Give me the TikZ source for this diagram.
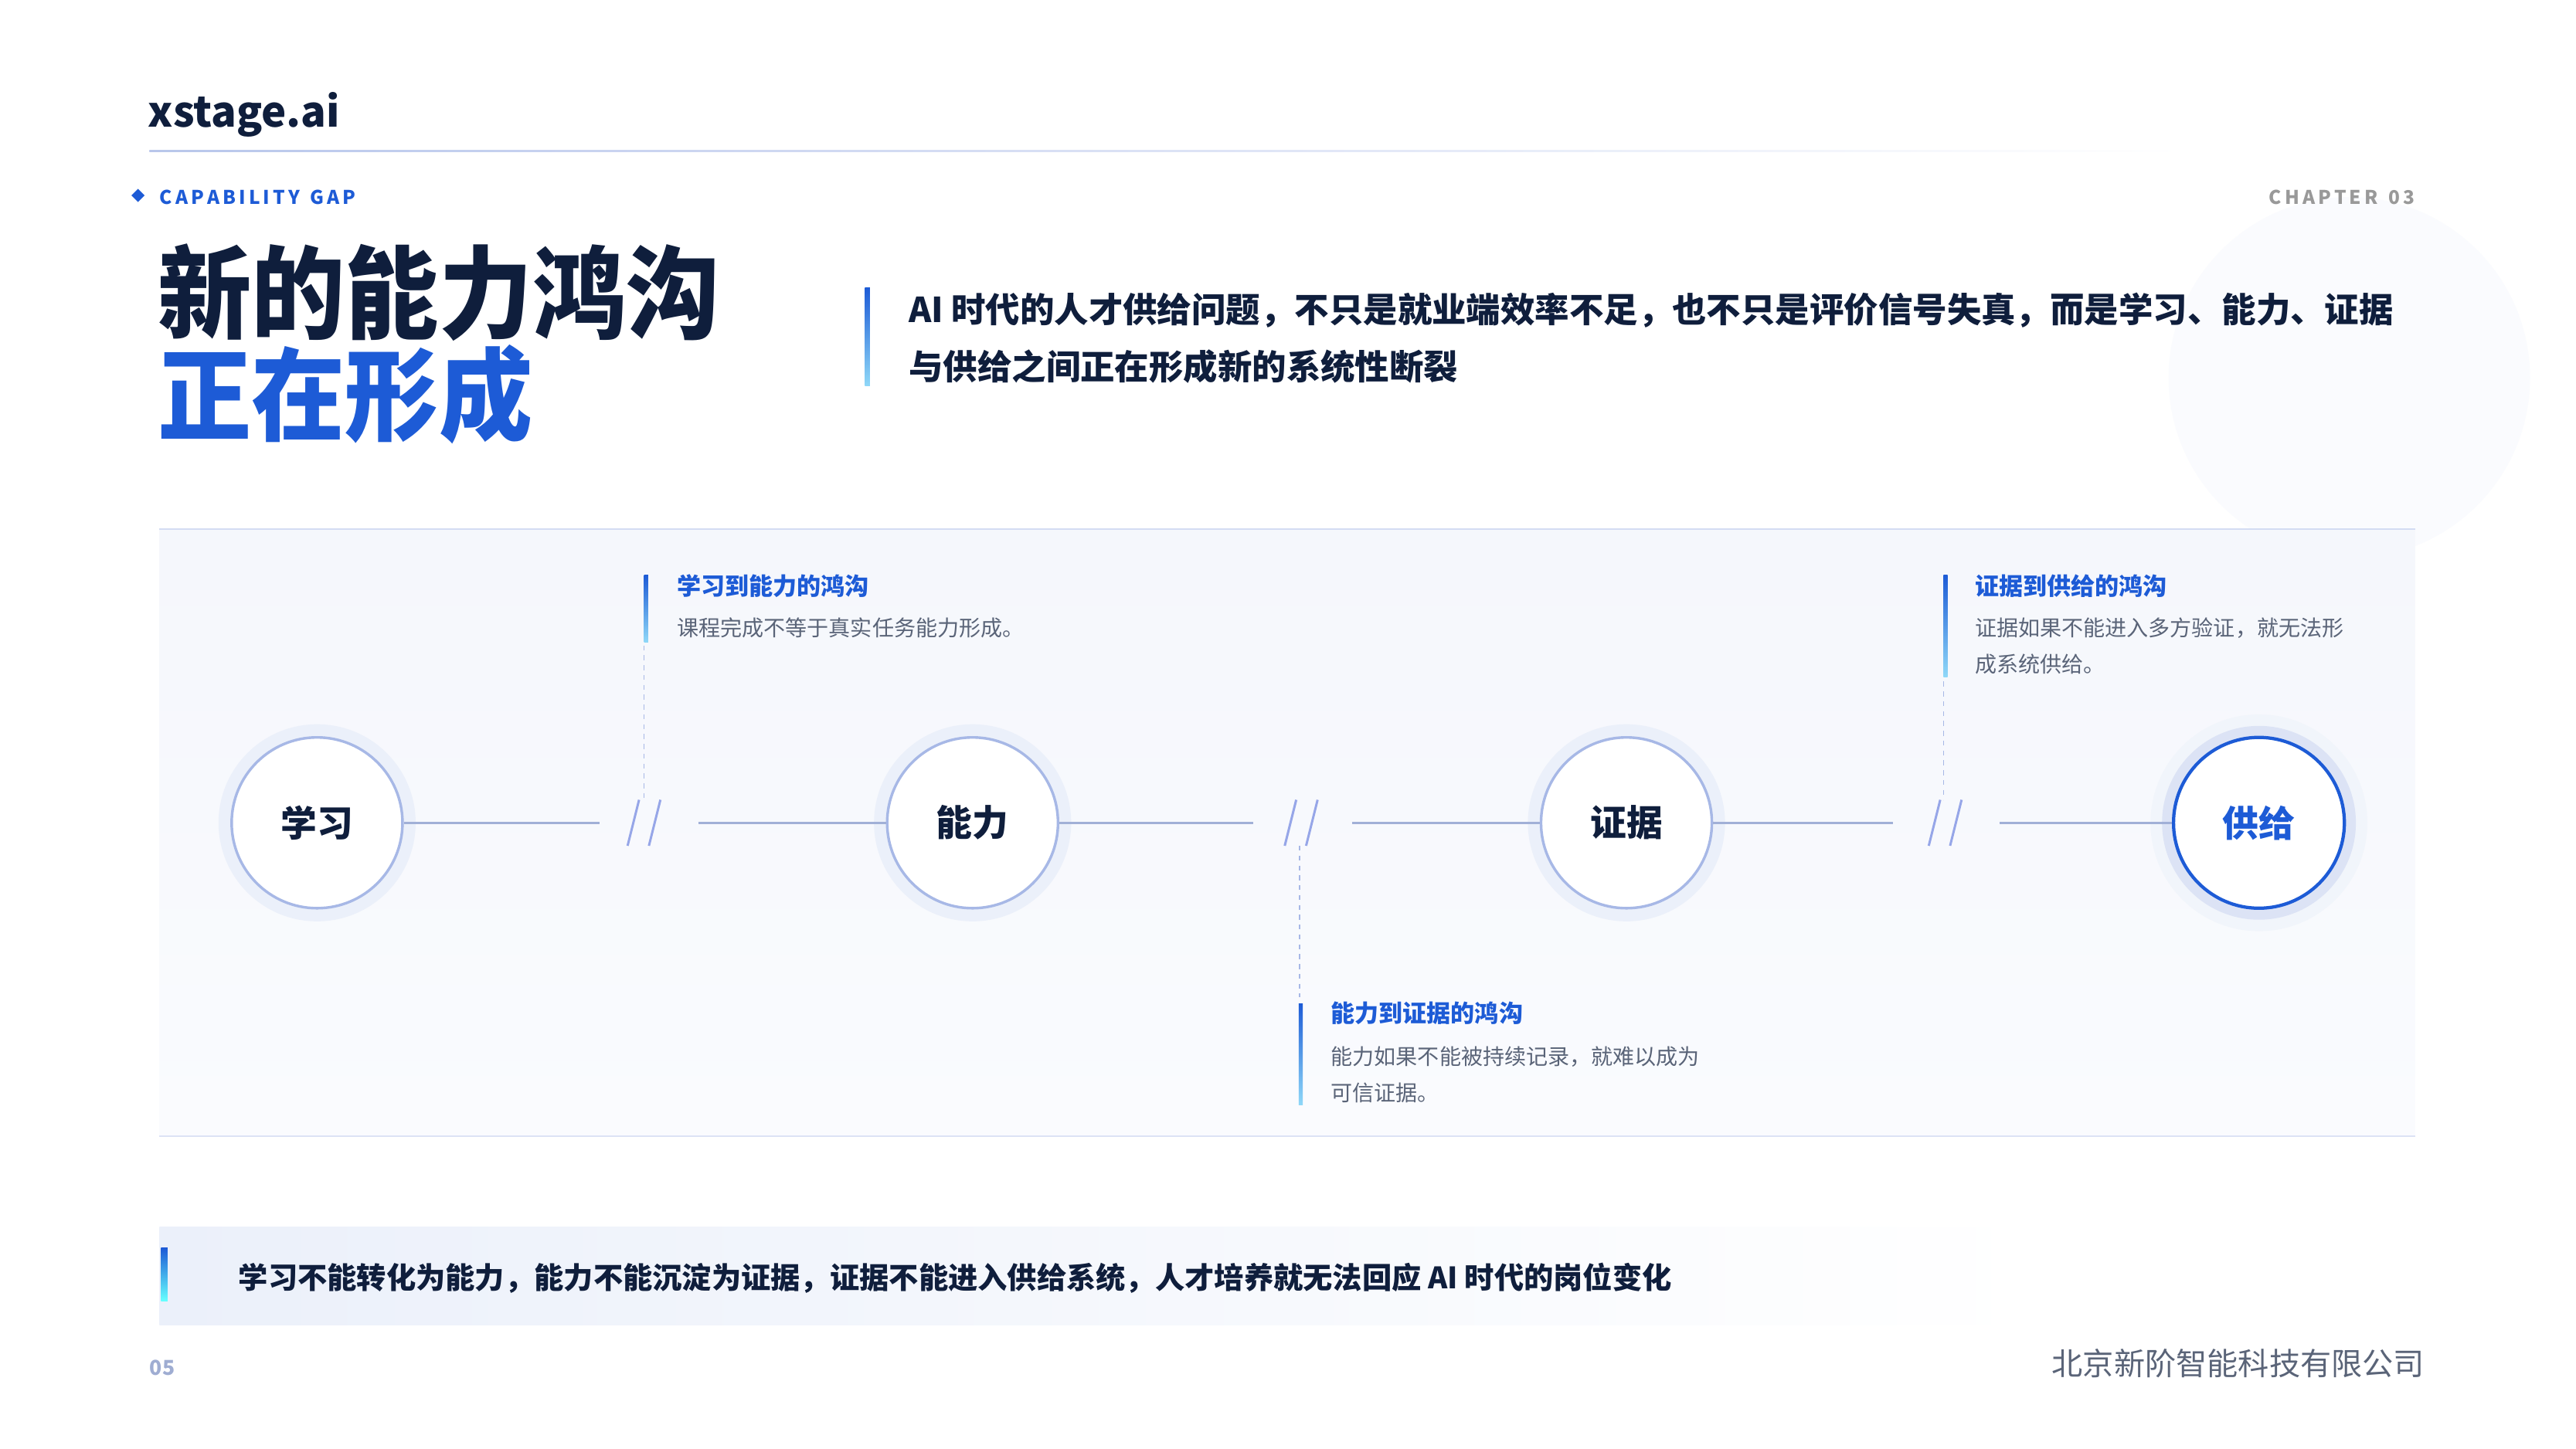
\documentclass[tikz,border=0pt]{standalone}
\usepackage{fontspec}
\setmainfont{Noto Sans CJK SC}
\usetikzlibrary{fadings,shadings}
\definecolor{navy}{HTML}{0F1E3C}
\definecolor{brand}{HTML}{1D5BD6}
\definecolor{ring}{HTML}{A7B8E6}
\definecolor{halo}{HTML}{EBF0FA}
\definecolor{gtext}{HTML}{5A6478}
\definecolor{panel}{HTML}{F5F7FC}
\definecolor{panelb}{HTML}{FAFBFE}
\definecolor{cyanb}{HTML}{8FD8F8}
\tikzset{
  stagecirc/.style={circle,draw=ring,line width=1.6pt,fill=white,minimum size=104pt,inner sep=0pt,font=\fontsize{22}{22}\selectfont\bfseries,text=navy},
  link/.style={draw=ring!85!gray,line width=1.6pt},
  brk/.style={draw=ring!90!blue,line width=1.4pt},
  dashv/.style={draw=ring,line width=0.8pt,dash pattern=on 3pt off 3pt},
  gtitle/.style={anchor=west,font=\fontsize{14.6}{14}\selectfont\bfseries,text=brand,inner sep=0pt},
  gdesc/.style={anchor=north west,font=\fontsize{13.2}{22}\selectfont,text=gtext,inner sep=0pt,align=left},
  gbar/.style={top color=brand,bottom color=cyanb,draw=none},
}
\begin{document}
\begin{tikzpicture}[x=1pt,y=-1pt]
\useasboundingbox (0,0) rectangle (1568,882);
\fill[white] (0,0) rectangle (1568,882);
\fill[halo!25] (1430,230) circle (110);
% header
\node[anchor=west,inner sep=0pt,font=\fontsize{25.5}{25}\selectfont\bfseries,text=navy] (logo) at (90,70) {xstage.ai};
\shade[left color=ring!80,right color=white] (91,91.5) rectangle (1330,92.5);
\fill[brand] (84,115) -- (88,119) -- (84,123) -- (80,119) -- cycle;
\node[anchor=west,inner sep=0pt,font=\fontsize{11.5}{12}\selectfont\bfseries,text=brand] (cap) at (97,120) {C\,A\,P\,A\,B\,I\,L\,I\,T\,Y\, \,G\,A\,P};
\node[anchor=east,inner sep=0pt,font=\fontsize{11.5}{12}\selectfont\bfseries,text=gray!80] (chap) at (1470,120) {C\,H\,A\,P\,T\,E\,R\, \,0\,3};
\node[anchor=west,inner sep=0pt,font=\fontsize{57}{57}\selectfont\bfseries,text=navy,yscale=1.08] (t1) at (96,178) {新的能力鸿沟};
\node[anchor=west,inner sep=0pt,font=\fontsize{57}{57}\selectfont\bfseries,text=brand,yscale=1.08] (t2) at (96,240) {正在形成};
\shade[top color=brand,bottom color=cyanb] (526.5,175) rectangle (529.5,235);
\node[anchor=west,inner sep=0pt,font=\fontsize{20.9}{20}\selectfont\bfseries,text=navy] (s1) at (553,189) {AI 时代的人才供给问题，不只是就业端效率不足，也不只是评价信号失真，而是学习、能力、证据};
\node[anchor=west,inner sep=0pt,font=\fontsize{20.9}{20}\selectfont\bfseries,text=navy] (s2) at (553,223) {与供给之间正在形成新的系统性断裂};
% panel
\shade[top color=panel,bottom color=panelb] (97,322) rectangle (1470,692);
\draw[ring!50,line width=1pt] (97,322) -- (1470,322);
\draw[ring!40,line width=1pt] (97,692) -- (1470,692);
% halos
\foreach \x in {193,592,990} \fill[halo] (\x,501) circle (60);
\fill[halo!70] (1375,501) circle (66);
\fill[ring!40] (1375,501) circle (59);
% circles
\node[stagecirc] (a) at (193,501) {学习};
\node[stagecirc] (b) at (592,501) {能力};
\node[stagecirc] (c) at (990,501) {证据};
\node[stagecirc,draw=brand,line width=2pt,text=brand] (d) at (1375,501) {供给};
% connectors with breaks
\coordinate (a1) at (365,501); \coordinate (a2) at (425,501);
\coordinate (b1) at (763,501); \coordinate (b2) at (823,501);
\coordinate (c1) at (1152,501); \coordinate (c2) at (1217,501);
\draw[link] (a) -- (a1); \draw[link] (a2) -- (b);
\draw[link] (b) -- (b1); \draw[link] (b2) -- (c);
\draw[link] (c) -- (c1); \draw[link] (c2) -- (d);
\foreach \x in {392,792,1184}{
  \draw[brk] (\x-10,515) -- (\x-3,487);
  \draw[brk] (\x+3,515) -- (\x+10,487);
}
% dashed guides
\draw[dashv] (392,393) -- (392,487);
\draw[dashv] (791,515) -- (791,607);
\draw[dashv] (1183,415) -- (1183,487);
% annotations
\shade[gbar] (392,350) rectangle (394.5,391);
\node[gtitle] (g1) at (412,357) {学习到能力的鸿沟};
\node[gdesc] (g1d) at (412,376) {课程完成不等于真实任务能力形成。};
\shade[gbar] (1183,350) rectangle (1185.5,412);
\node[gtitle] (g3) at (1202,357) {证据到供给的鸿沟};
\node[gdesc] (g3d) at (1202,376) {证据如果不能进入多方验证，就无法形\\成系统供给。};
\shade[gbar] (790.5,611) rectangle (793,673);
\node[gtitle] (g2) at (810,617) {能力到证据的鸿沟};
\node[gdesc] (g2d) at (810,637) {能力如果不能被持续记录，就难以成为\\可信证据。};
% bottom banner
\shade[left color=halo,right color=white] (97,747) rectangle (1240,807);
\shade[top color=brand,bottom color=cyan!60] (98,760) rectangle (102,792);
\node[anchor=west,inner sep=0pt,font=\fontsize{18}{18}\selectfont\bfseries,text=navy] (bn) at (145,778) {学习不能转化为能力，能力不能沉淀为证据，证据不能进入供给系统，人才培养就无法回应 AI 时代的岗位变化};
\node[anchor=west,inner sep=0pt,font=\fontsize{12.5}{12}\selectfont\bfseries,text=ring!80!gray] (pg) at (91,833) {05};
\node[anchor=east,inner sep=0pt,font=\fontsize{18.9}{18}\selectfont,text=gtext] (co) at (1476,830) {北京新阶智能科技有限公司};
\end{tikzpicture}
\end{document}
